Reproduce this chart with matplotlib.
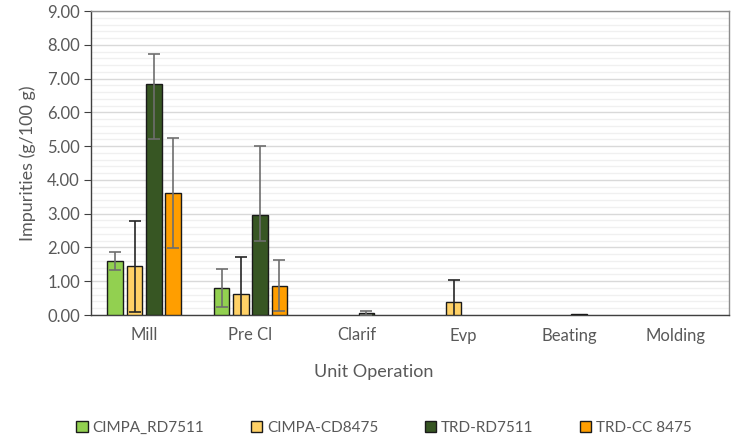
import matplotlib
matplotlib.use("Agg")
import matplotlib.pyplot as plt
import numpy as np
from matplotlib.ticker import MultipleLocator, FormatStrFormatter
from matplotlib.patches import Patch

plt.rcParams['font.family'] = ['Lato', 'DejaVu Sans']

categories = ["Mill", "Pre Cl", "Clarif", "Evp", "Beating", "Molding"]
series = ["CIMPA_RD7511", "CIMPA-CD8475", "TRD-RD7511", "TRD-CC 8475"]

cimpa_rd = [1.61, 0.81, 0.0, 0.0, 0.0, 0.0]
cimpa_rd_err_lo = [0.27, 0.56, 0.0, 0.0, 0.0, 0.0]
cimpa_rd_err_hi = [0.26, 0.56, 0.0, 0.0, 0.0, 0.0]

cimpa_cd = [1.44, 0.63, 0.0, 0.38, 0.0, 0.0]
cimpa_cd_err_lo = [1.34, 1.08, 0.0, 0.65, 0.0, 0.0]
cimpa_cd_err_hi = [1.35, 1.08, 0.0, 0.65, 0.0, 0.0]

trd_rd = [6.84, 2.95, 0.05, 0.0, 0.04, 0.0]
trd_rd_err_lo = [1.64, 0.75, 0.05, 0.0, 0.0, 0.0]
trd_rd_err_hi = [0.89, 2.04, 0.08, 0.0, 0.0, 0.0]

trd_cc = [3.60, 0.87, 0.0, 0.0, 0.0, 0.0]
trd_cc_err_lo = [1.62, 0.74, 0.0, 0.0, 0.0, 0.0]
trd_cc_err_hi = [1.63, 0.75, 0.0, 0.0, 0.0, 0.0]

values = [cimpa_rd, cimpa_cd, trd_rd, trd_cc]
err_lo = [cimpa_rd_err_lo, cimpa_cd_err_lo, trd_rd_err_lo, trd_cc_err_lo]
err_hi = [cimpa_rd_err_hi, cimpa_cd_err_hi, trd_rd_err_hi, trd_cc_err_hi]
colors = ["#92D050", "#FFD166", "#375623", "#FF9E00"]
err_colors = ["#6E6E6E", "#262626", "#6E6E6E", "#6E6E6E"]

text_color = "#595959"

fig = plt.figure(figsize=(7.31, 4.41), dpi=100)
ax = fig.add_axes([91/731, 1-315/441, (729-91)/731, (315-11)/441])

x = np.arange(len(categories))
width = 0.148
step = 0.181
for i, (vals, lo, hi) in enumerate(zip(values, err_lo, err_hi)):
    pos = x + (i - 1.5) * step
    keep = [v > 0 for v in vals]
    pp = [p for p, k in zip(pos, keep) if k]
    vv = [v for v, k in zip(vals, keep) if k]
    ax.bar(pp, vv, width, color=colors[i], edgecolor="#1a1a1a", linewidth=1.0, zorder=3)
    mask = [(l > 0 or h > 0) for l, h in zip(lo, hi)]
    pe = [p for p, m in zip(pos, mask) if m]
    ve = [v for v, m in zip(vals, mask) if m]
    ll = [l for l, m in zip(lo, mask) if m]
    hh = [h for h, m in zip(hi, mask) if m]
    ax.errorbar(pe, ve, yerr=[ll, hh], fmt="none", ecolor=err_colors[i],
                elinewidth=1.2, capsize=4, capthick=1.2, zorder=4)

ax.set_xlim(-0.5, len(categories) - 0.5)
ax.set_ylim(0, 9)
ax.yaxis.set_major_locator(MultipleLocator(1))
ax.yaxis.set_minor_locator(MultipleLocator(0.2))
ax.yaxis.set_major_formatter(FormatStrFormatter("%.2f"))
ax.set_xticks(x)
ax.set_xticklabels(categories)
ax.grid(axis="y", which="major", color="#D9D9D9", linewidth=1.0, zorder=0)
ax.grid(axis="y", which="minor", color="#F0F0F0", linewidth=1.0, zorder=0)
ax.set_axisbelow(True)

for s in ["top", "right"]:
    ax.spines[s].set_color("#8C8C8C")
    ax.spines[s].set_linewidth(1.0)
for s in ["left", "bottom"]:
    ax.spines[s].set_color("#404040")
    ax.spines[s].set_linewidth(1.0)

ax.tick_params(axis="y", which="major", length=5, color="#404040", labelsize=12, labelcolor=text_color, pad=3)
ax.tick_params(axis="y", which="minor", length=0)
ax.tick_params(axis="x", length=0, labelsize=12, labelcolor=text_color, pad=9)

ax.set_xlabel("Unit Operation", fontsize=13, color=text_color)
ax.xaxis.set_label_coords((374-91)/638, -(372-315)/304, transform=ax.transAxes)
ax.xaxis.label.set_va("center")
ax.set_ylabel("Impurities (g/100 g)", fontsize=13, color=text_color, labelpad=8)

handles = [Patch(facecolor=c, edgecolor="#1a1a1a", linewidth=1.0) for c in colors]
leg = fig.legend(handles, series, loc="center", bbox_to_anchor=(384/731, 1-428/441), ncol=4,
                 frameon=False, fontsize=11, handlelength=0.75, handleheight=0.75,
                 handletextpad=0.3, columnspacing=3.05, labelcolor=text_color)

fig.savefig("out.png", dpi=100)
